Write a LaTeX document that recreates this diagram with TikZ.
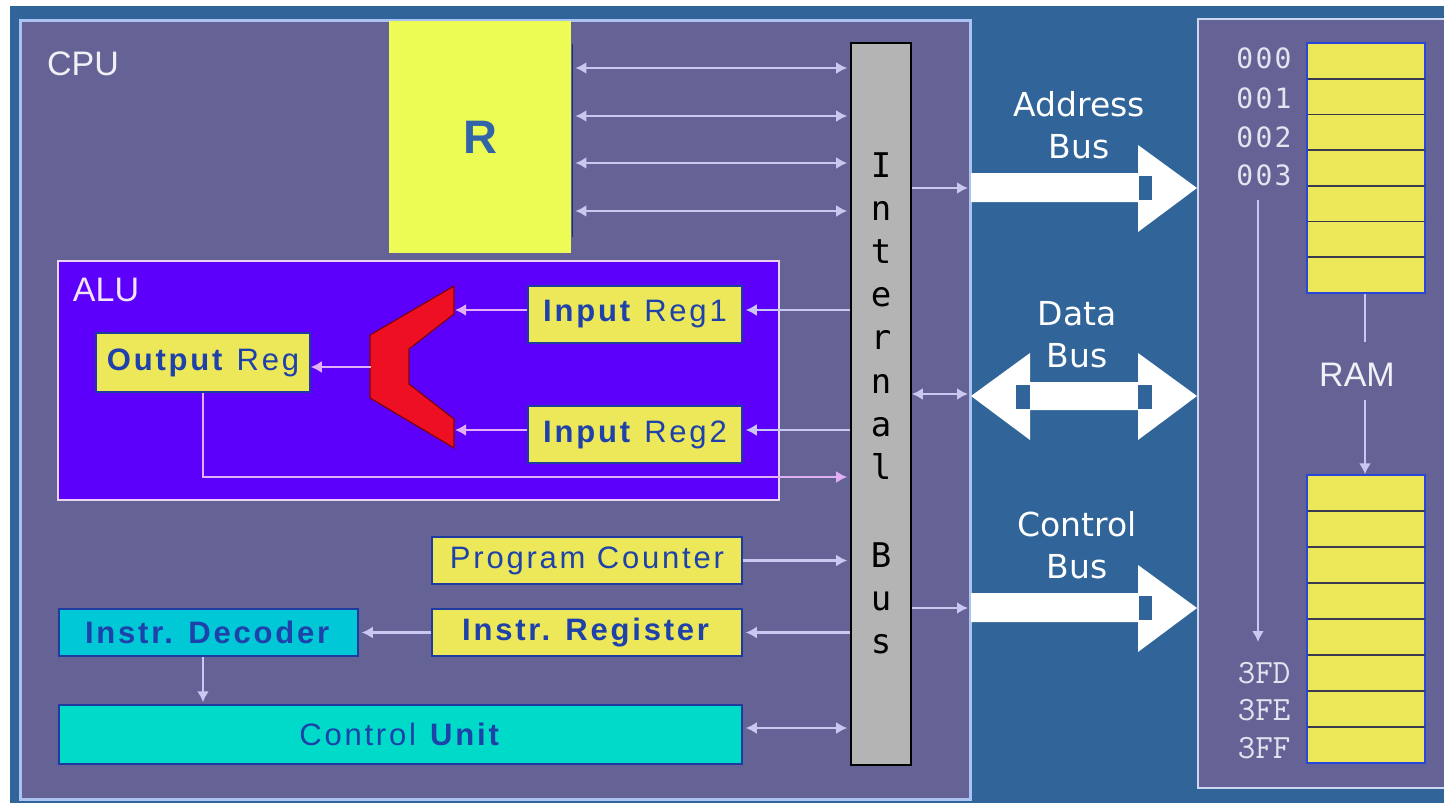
\documentclass[tikz,border=0pt]{standalone}
\usepackage{fontspec}
\setmainfont{Liberation Sans}
\newfontfamily\comicf{DejaVu Sans}
\newfontfamily\monoa[LetterSpace=8]{DejaVu Sans Mono}
\newfontfamily\monobus{DejaVu Sans Mono}
\newfontfamily\boxf[LetterSpace=9]{Liberation Sans}
\usetikzlibrary{arrows.meta,calc}
\definecolor{bgblue}{RGB}{49,101,153}
\definecolor{panel}{RGB}{101,99,150}
\definecolor{paneledge}{RGB}{170,195,240}
\definecolor{ramedge}{RGB}{205,215,240}
\definecolor{aluviolet}{RGB}{92,0,252}
\definecolor{aluedge}{RGB}{235,210,240}
\definecolor{yel}{RGB}{236,232,90}
\definecolor{rbox}{RGB}{236,252,84}
\definecolor{decfill}{RGB}{0,200,215}
\definecolor{cufill}{RGB}{0,218,200}
\definecolor{boxedge}{RGB}{30,60,160}
\definecolor{txtblue}{RGB}{30,65,170}
\definecolor{rletter}{RGB}{50,100,170}
\definecolor{busgray}{RGB}{180,180,180}
\definecolor{lav}{RGB}{200,200,240}
\definecolor{pinkl}{RGB}{225,175,245}
\definecolor{alured}{RGB}{238,16,34}
\definecolor{aluredge}{RGB}{120,0,16}
\definecolor{lbl}{RGB}{240,240,246}
\definecolor{addr}{RGB}{228,228,240}
\definecolor{cellblue}{RGB}{40,70,220}
\definecolor{cellline}{RGB}{58,58,80}
\begin{document}
\begin{tikzpicture}[x=0.5pt,y=-0.5pt,
  conn/.style={draw=lav, line width=1.4pt},
  pconn/.style={draw=pinkl, line width=1.4pt},
  tipend/.style={-{Latex[length=5.5pt,width=6pt]}},
  tipboth/.style={{Latex[length=5.5pt,width=6pt]}-{Latex[length=5.5pt,width=6pt]}},
  regbox/.style={draw=boxedge, line width=0.75pt, inner sep=0pt,
    font=\boxf\fontsize{15.5}{18}\selectfont, text=txtblue},
  ybox/.style={regbox, fill=yel},
  panellabel/.style={font=\fontsize{17}{20}\selectfont, text=lbl, inner sep=0pt},
  buslabel/.style={font=\comicf\fontsize{16.5}{21}\selectfont, text=white, align=center, inner sep=0pt},
  busletter/.style={font=\monobus\fontsize{17}{20}\selectfont, text=black, anchor=base, inner sep=0pt},
  bigarrow/.style={fill=white, draw=none},
  notch/.style={fill=bgblue, draw=none},
  addrA/.style={font=\monoa\fontsize{14}{16}\selectfont, text=addr, inner sep=0pt},
  addrB/.style={font=\ttfamily\fontsize{17}{19}\selectfont, text=addr, inner sep=0pt},
  celline/.style={draw=cellline, line width=0.9pt},
  memblock/.style={draw=cellblue, line width=0.75pt, fill=yel, minimum width=59pt, inner sep=0pt}
]
\useasboundingbox (0,0) rectangle (1444,803);
\fill[white] (0,0) rectangle (1444,803);
\fill[bgblue] (10,6) rectangle (1444,803);

% CPU panel
\draw[draw=paneledge, line width=1.5pt, fill=panel] (20,20) rectangle (970,799);
\node[panellabel] (cpul) at (83,64) {CPU};

% RAM panel
\fill[panel] (1198,19) rectangle (1444,788);
\draw[draw=ramedge, line width=1.2pt] (1444,19) -- (1198,19) -- (1198,788) -- (1444,788);

% R box
\draw[draw=boxedge!80!black, line width=0.5pt] (572,44) -- (572,237);
\node[fill=rbox, minimum width=91pt, minimum height=116pt, inner sep=0pt,
  font=\bfseries\fontsize{23.5}{26}\selectfont, text=rletter] (R) at (480,137) {R};

% Internal bus
\node[draw=black, line width=0.8pt, fill=busgray, minimum width=30pt, minimum height=361pt, inner sep=0pt] (bus) at (881,404) {};
\foreach \ch [count=\k from 0] in {I,n,t,e,r,n,a,l}
  \node[busletter] (bl\k) at (881,177+43.2*\k) {\ch};
\foreach \ch [count=\k from 0] in {B,u,s}
  \node[busletter] (bb\k) at (881,567+43.2*\k) {\ch};

% R arrows to bus
\foreach \yy in {68,116,163,211}
  \draw[conn, tipboth, shorten <=2pt, shorten >=1.5pt] (R.east |- 0,\yy) -- (bus.west |- 0,\yy);

% ALU
\draw[draw=aluedge, line width=1pt, fill=aluviolet] (58,261) rectangle (779,500);
\node[panellabel, text=aluedge!60!white] (alul) at (106,290) {ALU};
\node[ybox, minimum width=107pt, minimum height=29.5pt] (out) at (203,362.5) {\textbf{Output} Reg};
\node[ybox, minimum width=107pt, minimum height=28.5pt] (ir1) at (635,314.5) {\textbf{Input} Reg1};
\node[ybox, minimum width=107pt, minimum height=28.5pt] (ir2) at (635,434.5) {\textbf{Input} Reg2};
\draw[fill=alured, draw=aluredge, line width=0.6pt]
  (454,286) -- (454,314) -- (409,349) -- (409,384) -- (454,419) -- (454,448)
  -- (370,398) -- (370,335) -- cycle;
\coordinate (aluR) at (455,367);
\coordinate (aluL) at (371,367);
\draw[pconn, tipend] (ir1.west |- 0,310) -- (aluR |- 0,310);
\draw[pconn, tipend] (ir2.west |- 0,430) -- (aluR |- 0,430);
\draw[pconn, tipend] (aluL) -- (out.east |- aluL);
\draw[conn, tipend, shorten >=1.5pt] (bus.west |- 0,310) -- (ir1.east |- 0,310);
\draw[conn, tipend, shorten >=1.5pt] (bus.west |- 0,430) -- (ir2.east |- 0,430);
\draw[pconn, tipend, shorten >=1.5pt] (out.south) |- (bus.west |- 0,477);

% Program counter etc
\node[ybox, minimum width=155pt, minimum height=23.5pt] (pc) at (587,560.5) {Program Counter};
\node[ybox, minimum width=155pt, minimum height=23.5pt] (ireg) at (587,632.5) {\textbf{Instr. Register}};
\node[regbox, fill=decfill, minimum width=149.5pt, minimum height=23.5pt] (dec) at (208.5,632.5) {\textbf{Instr. Decoder}};
\node[regbox, fill=cufill, minimum width=341.5pt, minimum height=29.5pt] (cu) at (400.5,734.5) {Control \textbf{Unit}};
\draw[conn, tipend, shorten >=1.5pt] (pc.east) -- (bus.west |- pc.east);
\draw[conn, tipend, shorten >=1.5pt] (bus.west |- ireg.east) -- (ireg.east);
\draw[conn, tipend, shorten >=1.5pt] (ireg.west) -- (dec.east);
\draw[conn, tipend, shorten >=1pt] ([xshift=-2.75pt]dec.south) -- ([xshift=-2.75pt]dec.south |- cu.north);
\draw[conn, tipboth, shorten <=1.5pt, shorten >=1.5pt] (cu.east |- 0,728) -- (bus.west |- 0,728);

% Big bus arrows
\coordinate (abus) at (968,188);
\coordinate (dbus) at (968,394);
\coordinate (cbus) at (968,608);
\draw[conn, tipend] (bus.east |- abus) -- (abus);
\draw[conn, tipboth] (bus.east |- dbus) -- (dbus);
\draw[conn, tipend] (bus.east |- cbus) -- (cbus);

% address bus
\fill[bigarrow] (971,173) -- (1138,173) -- (1138,145) -- (1197,188) -- (1138,232) -- (1138,202) -- (971,202) -- cycle;
\fill[notch] (1139,176) rectangle (1152,200);
\node[buslabel] (abl) at (1079,125) {Address\\Bus};
% data bus
\fill[bigarrow] (971,396) -- (1030,353) -- (1030,382) -- (1138,382) -- (1138,353) -- (1197,396)
  -- (1138,440) -- (1138,410) -- (1030,410) -- (1030,440) -- cycle;
\fill[notch] (1016,385) rectangle (1030,409);
\fill[notch] (1138,385) rectangle (1152,409);
\node[buslabel] (dbl) at (1077,335) {Data\\Bus};
% control bus
\fill[bigarrow] (971,593) -- (1138,593) -- (1138,565) -- (1197,608) -- (1138,652) -- (1138,622) -- (971,622) -- cycle;
\fill[notch] (1139,596) rectangle (1152,620);
\node[buslabel] (cbl) at (1077,545) {Control\\Bus};

% RAM blocks
\node[memblock, minimum height=125pt] (mtop) at (1366,168) {};
\foreach \k in {1,...,6}
  \draw[celline] (1307.5,43+35.71*\k) -- (1424.5,43+35.71*\k);
\node[memblock, minimum height=144pt] (mbot) at (1366,619) {};
\foreach \k in {1,...,7}
  \draw[celline] (1307.5,475+36*\k) -- (1424.5,475+36*\k);
\node[panellabel] (raml) at (1357,375) {RAM};
\draw[conn, line width=1pt] (mtop.south -| 1365,0) -- (1365,342);
\draw[conn, line width=1pt, tipend] (1365,400) -- (mbot.north -| 1365,0);

% addresses
\node[addrA] (a0) at (1264,58) {000};
\node[addrA] (a1) at (1264,98) {001};
\node[addrA] (a2) at (1264,137) {002};
\node[addrA] (a3) at (1264,175) {003};
\node[addrB] (a4) at (1264,673) {3FD};
\node[addrB] (a5) at (1264,710) {3FE};
\node[addrB] (a6) at (1264,748) {3FF};
\draw[conn, line width=1pt, tipend] (1258,200) -- (1258,642);
\end{tikzpicture}
\end{document}
